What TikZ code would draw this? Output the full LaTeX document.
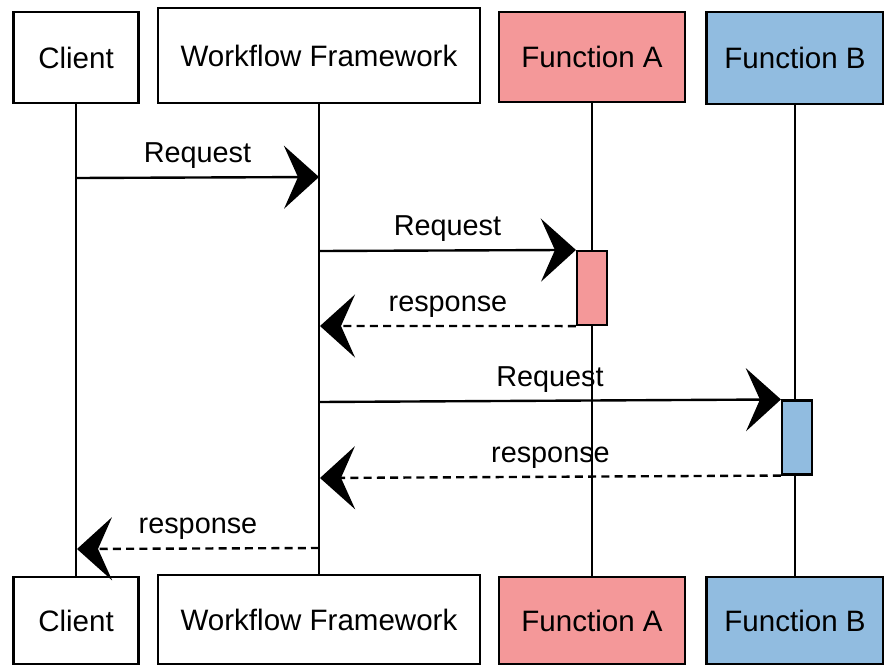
\documentclass[tikz,border=0pt]{standalone}
\usepackage{fontspec}
\setmainfont{Liberation Sans}
\usetikzlibrary{arrows.meta}
\definecolor{fnApink}{RGB}{244,152,153}
\definecolor{fnBblue}{RGB}{145,188,224}
\newcommand{\pxu}{0.025cm}
\begin{document}
\begin{tikzpicture}[x=0.025cm, y=-0.025cm,
    actor/.style={draw, line width=1.6pt, inner sep=0pt, font=\fontsize{21}{25}\selectfont},
    lifeline/.style={line width=1pt},
    actbox/.style={draw, line width=1.5pt, inner sep=0pt, minimum width=30*\pxu, minimum height=74*\pxu},
    msg/.style={line width=1.7pt, -{Stealth[length=0.875cm, width=1.575cm, inset=0.35cm]}},
    reply/.style={msg, dash pattern=on 0.2cm off 0.13cm},
    lbl/.style={above=2pt, font=\fontsize{20.5}{24}\selectfont}]
            \useasboundingbox (0,0) rectangle (884,671);

            % participants, top and bottom
            \node[actor, minimum width=125*\pxu, minimum height=91*\pxu] (clientT) at (76,57.5) {Client};
            \node[actor, minimum width=322*\pxu, minimum height=95*\pxu] (wfT) at (319,55.5) {Workflow Framework};
            \node[actor, fill=fnApink, minimum width=186*\pxu, minimum height=90*\pxu] (fnAT) at (592,57) {Function A};
            \node[actor, fill=fnBblue, minimum width=177*\pxu, minimum height=92*\pxu] (fnBT) at (795,58) {Function B};
            \node[actor, minimum width=125*\pxu, minimum height=87*\pxu] (clientB) at (76,620.5) {Client};
            \node[actor, minimum width=322*\pxu, minimum height=89*\pxu] (wfB) at (319,619.5) {Workflow Framework};
            \node[actor, fill=fnApink, minimum width=186*\pxu, minimum height=87*\pxu] (fnAB) at (592,620.5) {Function A};
            \node[actor, fill=fnBblue, minimum width=177*\pxu, minimum height=87*\pxu] (fnBB) at (795,620.5) {Function B};

            % lifelines
            \draw[lifeline] (clientT) -- (clientB);
            \draw[lifeline] (wfT) -- (wfB);
            \draw[lifeline] (fnAT) -- (fnAB);
            \draw[lifeline] (fnBT) -- (fnBB);

            % activations
            \node[actbox, fill=fnApink] (actA) at (592,288) {};
            \node[actbox, fill=fnBblue] (actB) at (797,437.5) {};

            \path (76,178) coordinate (C1);
            \path (319,177) coordinate (W1);
            \path (319,251) coordinate (W2);
            \path (320,326) coordinate (W3);
            \path (319,402) coordinate (W4);
            \path (320,478) coordinate (W5);
            \path (319,548) coordinate (W6);
            \path (77,549) coordinate (C6);

            % messages
            \draw[msg] (C1) -- node[lbl] {Request} (W1);
            \draw[msg] (W2) -- node[lbl] {Request} (actA.north west);
            \draw[reply] (actA.south west) -- node[lbl] {response} (W3);
            \draw[msg] (W4) -- node[lbl] {Request} (actB.north west);
            \draw[reply] (actB.south west) -- node[lbl] {response} (W5);
            \draw[reply] (W6) -- node[lbl] {response} (C6);
        \end{tikzpicture}
\end{document}
